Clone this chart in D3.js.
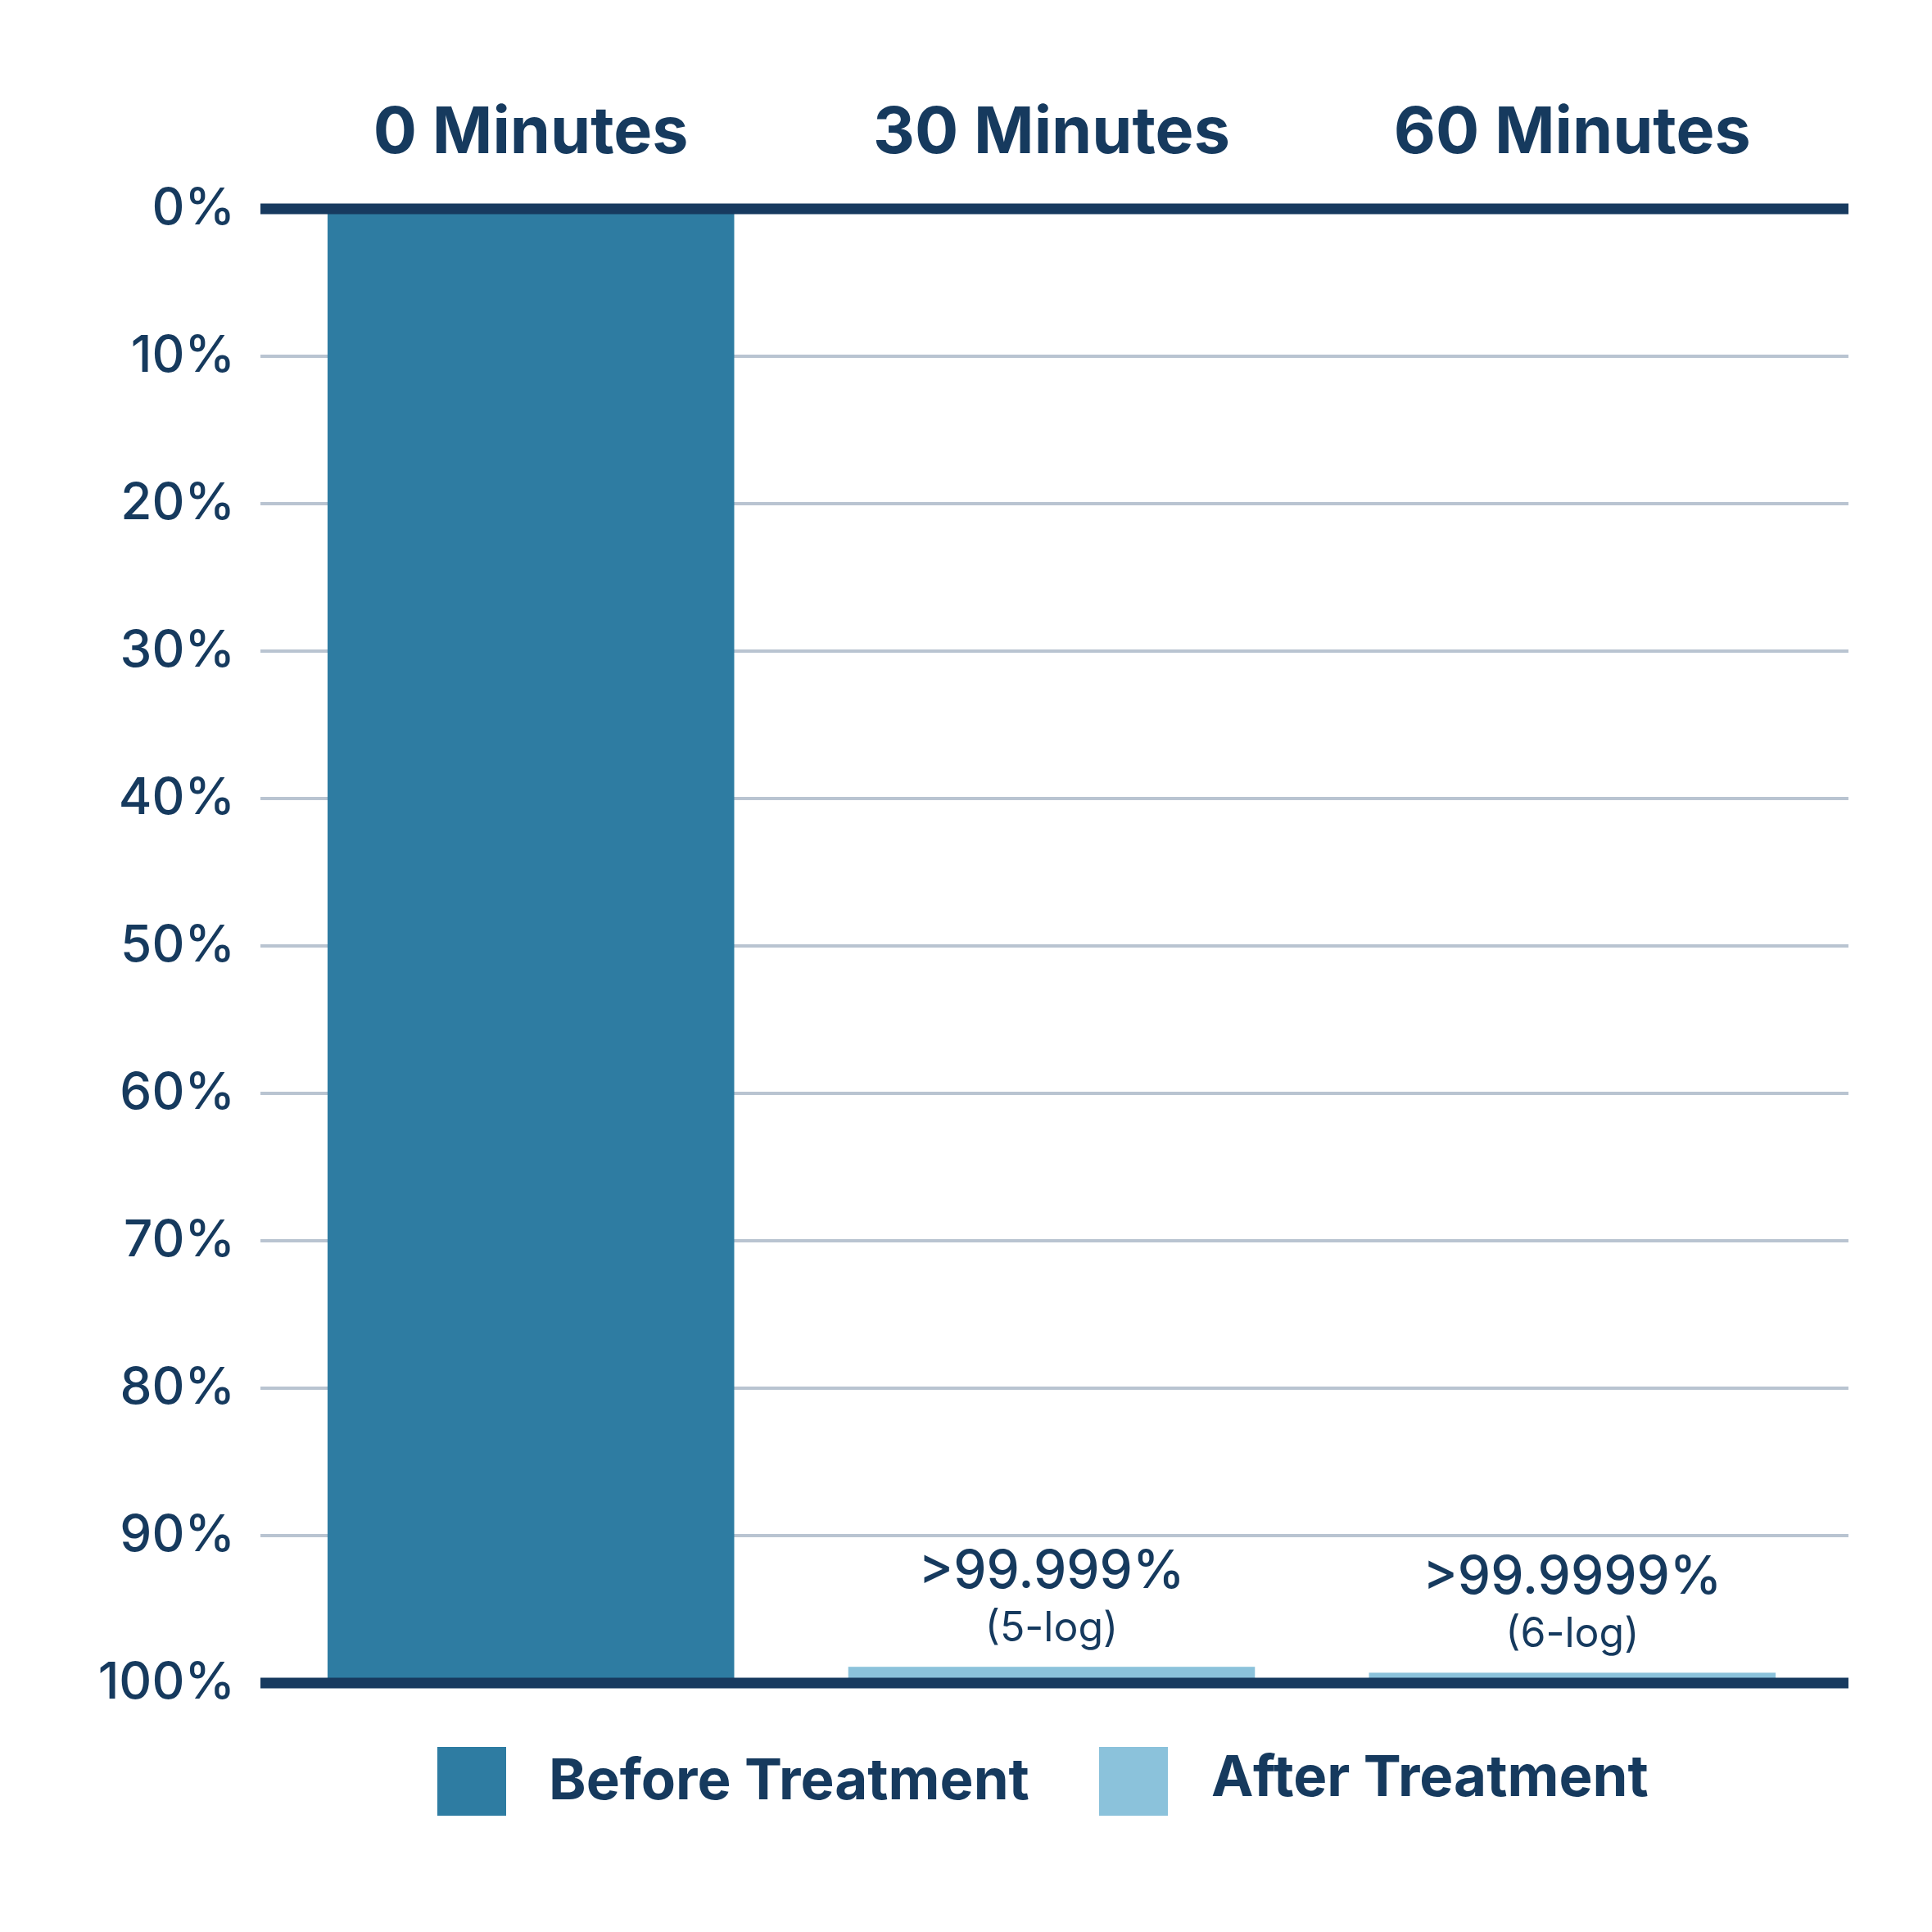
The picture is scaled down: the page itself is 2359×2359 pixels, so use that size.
<!DOCTYPE html>
<html>
<head>
<meta charset="utf-8">
<script src="https://cdn.jsdelivr.net/npm/d3@7"></script>
<style>
  body { margin: 0; background: #fff; }
  text { font-family: Inter, "Noto Sans", sans-serif; fill: #163a5e; }
</style>
</head>
<body>
<svg id="chart" width="2359" height="2359"></svg>
<script>
// data
var categories = ["0 Minutes", "30 Minutes", "60 Minutes"]
var series = ["Before Treatment", "After Treatment"]
var barSeries = ["Before Treatment", "After Treatment", "After Treatment"]
var remaining = [100, 1.1, 0.7]
var reductionLabels = ["", ">99.999%", ">99.9999%"]
var logLabels = ["", "(5-log)", "(6-log)"]
var yTicks = [0, 10, 20, 30, 40, 50, 60, 70, 80, 90, 100]

var colors = { "Before Treatment": "#2e7ca2", "After Treatment": "#8bc2db" }

var svg = d3.select("#chart")
var plotLeft = 318, plotRight = 2257, plotTop = 255, plotBottom = 2055

var x = d3.scaleBand()
  .domain(categories)
  .range([330, 2238])
  .paddingInner(0.219)
  .paddingOuter(0.11)

var y = d3.scaleLinear()
  .domain([0, 100])
  .range([plotTop, plotBottom])

// gridlines + tick labels
var yAxis = d3.axisLeft(y)
  .tickValues(yTicks)
  .tickSize(0)
  .tickPadding(31)
  .tickFormat(d => d + "%")

var gAxis = svg.append("g")
  .attr("transform", `translate(${plotLeft},0)`)
  .call(yAxis)
gAxis.select(".domain").remove()
gAxis.selectAll("text")
  .attr("font-size", 62)
  .attr("font-weight", 500)
  .attr("fill", "#163a5e")
  .attr("dy", "0.3em")
  .style("font-family", "Inter, 'Noto Sans', sans-serif")

svg.append("g").selectAll("line")
  .data(yTicks.filter(d => d > 0 && d < 100))
  .enter()
  .append("line")
  .attr("x1", plotLeft)
  .attr("x2", plotRight)
  .attr("y1", d => y(d))
  .attr("y2", d => y(d))
  .attr("stroke", "#b9c4d1")
  .attr("stroke-width", 4)

// bars
svg.append("g").selectAll("rect")
  .data(categories)
  .enter()
  .append("rect")
  .attr("x", d => x(d))
  .attr("width", x.bandwidth())
  .attr("y", (d, i) => y(100 - remaining[i]))
  .attr("height", (d, i) => y(100) - y(100 - remaining[i]))
  .attr("fill", (d, i) => colors[barSeries[i]])

// axis lines at 0% and 100%
svg.append("g").selectAll("line")
  .data([0, 100])
  .enter()
  .append("line")
  .attr("x1", plotLeft)
  .attr("x2", plotRight)
  .attr("y1", d => y(d))
  .attr("y2", d => y(d))
  .attr("stroke", "#173a5f")
  .attr("stroke-width", 13)

// category titles
svg.append("g").selectAll("text")
  .data(categories)
  .enter()
  .append("text")
  .attr("x", d => x(d) + x.bandwidth() / 2)
  .attr("y", 187)
  .attr("text-anchor", "middle")
  .attr("font-size", 79)
  .attr("font-weight", 700)
  .text(d => d)

// reduction labels
var ann = svg.append("g").selectAll("g")
  .data(categories.filter((d, i) => reductionLabels[i]))
  .enter()
  .append("g")

ann.append("text")
  .attr("x", d => x(d) + x.bandwidth() / 2)
  .attr("y", d => y(100 - remaining[categories.indexOf(d)]) - 96)
  .attr("text-anchor", "middle")
  .attr("font-size", 64)
  .attr("font-weight", 500)
  .text(d => reductionLabels[categories.indexOf(d)])

ann.append("text")
  .attr("x", d => x(d) + x.bandwidth() / 2)
  .attr("y", d => y(100 - remaining[categories.indexOf(d)]) - 31)
  .attr("text-anchor", "middle")
  .attr("font-size", 50)
  .attr("font-weight", 400)
  .text(d => logLabels[categories.indexOf(d)])

// legend
var legendX = [534, 1342]
var legendTextX = [670, 1479]
var leg = svg.append("g").selectAll("g")
  .data(series)
  .enter()
  .append("g")

leg.append("rect")
  .attr("x", (d, i) => legendX[i])
  .attr("y", 2133)
  .attr("width", 84)
  .attr("height", 84)
  .attr("fill", d => colors[d])

leg.append("text")
  .attr("x", (d, i) => legendTextX[i])
  .attr("y", (d, i) => 2197 - i * 4)
  .attr("font-size", 69)
  .attr("font-weight", 700)
  .text(d => d)
</script>
</body>
</html>
